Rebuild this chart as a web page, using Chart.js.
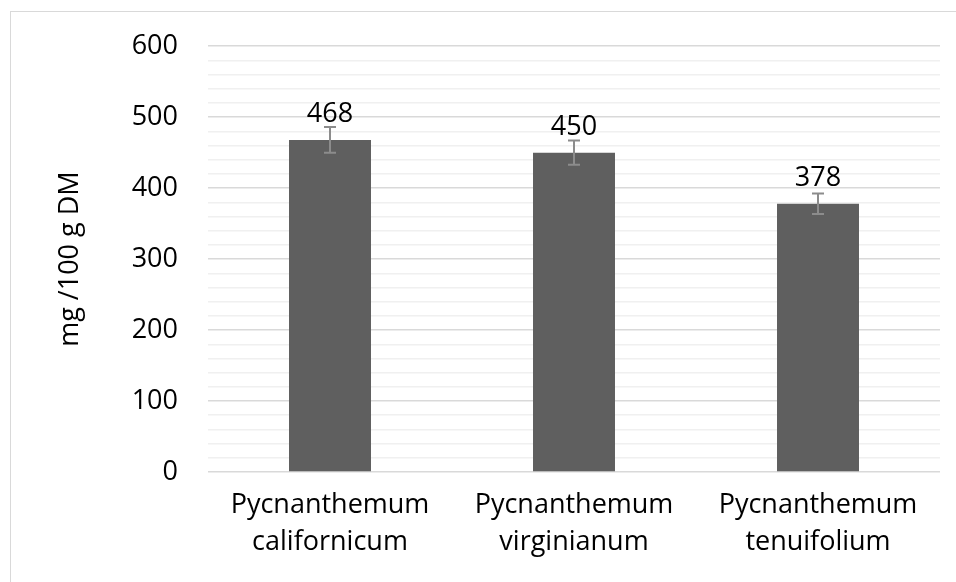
<!DOCTYPE html>
<html>
<head>
<meta charset="utf-8">
<script src="https://cdn.jsdelivr.net/npm/chart.js@4.4.1/dist/chart.umd.min.js"></script>
<style>
  html, body { margin: 0; padding: 0; background: #fff; }
  #wrap { position: relative; width: 956px; height: 582px; overflow: hidden; }
  #frame { position: absolute; left: 10px; top: 11px; width: 1000px; height: 700px; border: 1px solid #d9d9d9; }
  canvas { position: absolute; left: 0; top: 0; }
</style>
</head>
<body>
<div id="wrap">
  <div id="frame"></div>
  <canvas id="chart" width="956" height="582"></canvas>
</div>
<script>
const categories = [
  ['Pycnanthemum', 'californicum'],
  ['Pycnanthemum', 'virginianum'],
  ['Pycnanthemum', 'tenuifolium']
];
const values = [468, 450, 378];
const errors = [18, 17, 14.5];
const yTitle = 'mg /100 g DM';

const FONT = "'Open Sans', 'Noto Sans', sans-serif";

// error bars + value labels
const extras = {
  id: 'extras',
  afterDatasetsDraw(chart) {
    const ctx = chart.ctx;
    const y = chart.scales.y;
    const meta = chart.getDatasetMeta(0);
    ctx.save();
    meta.data.forEach((bar, i) => {
      const x = bar.x;
      const top = y.getPixelForValue(values[i] + errors[i]);
      const bot = y.getPixelForValue(values[i] - errors[i]);
      ctx.strokeStyle = '#8c8c8c';
      ctx.lineWidth = 2;
      ctx.beginPath();
      ctx.moveTo(x, top); ctx.lineTo(x, bot);
      ctx.moveTo(x - 6, top); ctx.lineTo(x + 6, top);
      ctx.moveTo(x - 6, bot); ctx.lineTo(x + 6, bot);
      ctx.stroke();

      ctx.fillStyle = '#000';
      ctx.font = '27px ' + FONT;
      ctx.textAlign = 'center';
      ctx.textBaseline = 'bottom';
      ctx.fillText(String(values[i]), x, bar.y - 12);
    });
    ctx.restore();
  }
};

new Chart(document.getElementById('chart'), {
  type: 'bar',
  data: {
    labels: categories,
    datasets: [{
      data: values,
      backgroundColor: '#5f5f5f',
      borderWidth: 0,
      categoryPercentage: 1,
      barPercentage: 0.336
    }]
  },
  options: {
    responsive: false,
    animation: false,
    layout: { padding: { top: 30, right: 16, left: 50, bottom: 0 } },
    plugins: { legend: { display: false }, tooltip: { enabled: false } },
    scales: {
      x: {
        grid: { display: false },
        border: { display: false },
        ticks: {
          color: '#000',
          font: { family: FONT, size: 27, lineHeight: 1.4 },
          padding: 6,
          maxRotation: 0
        },
        afterFit(s) { s.height = 110; }
      },
      y: {
        min: 0,
        max: 600,
        border: { display: false },
        grid: {
          drawTicks: false,
          color: c => (c.tick && c.tick.value % 100 === 0) ? '#d9d9d9' : '#f0f0f0',
          lineWidth: 1.5
        },
        ticks: {
          stepSize: 20,
          autoSkip: false,
          color: '#000',
          font: { family: FONT, size: 27 },
          padding: 30,
          callback: v => (v % 100 === 0 ? v : '')
        },
        title: {
          display: true,
          text: yTitle,
          color: '#000',
          font: { family: FONT, size: 27 },
          padding: { bottom: 20 }
        },
        afterFit(s) { s.width = 158; }
      }
    }
  },
  plugins: [extras]
});
</script>
</body>
</html>
